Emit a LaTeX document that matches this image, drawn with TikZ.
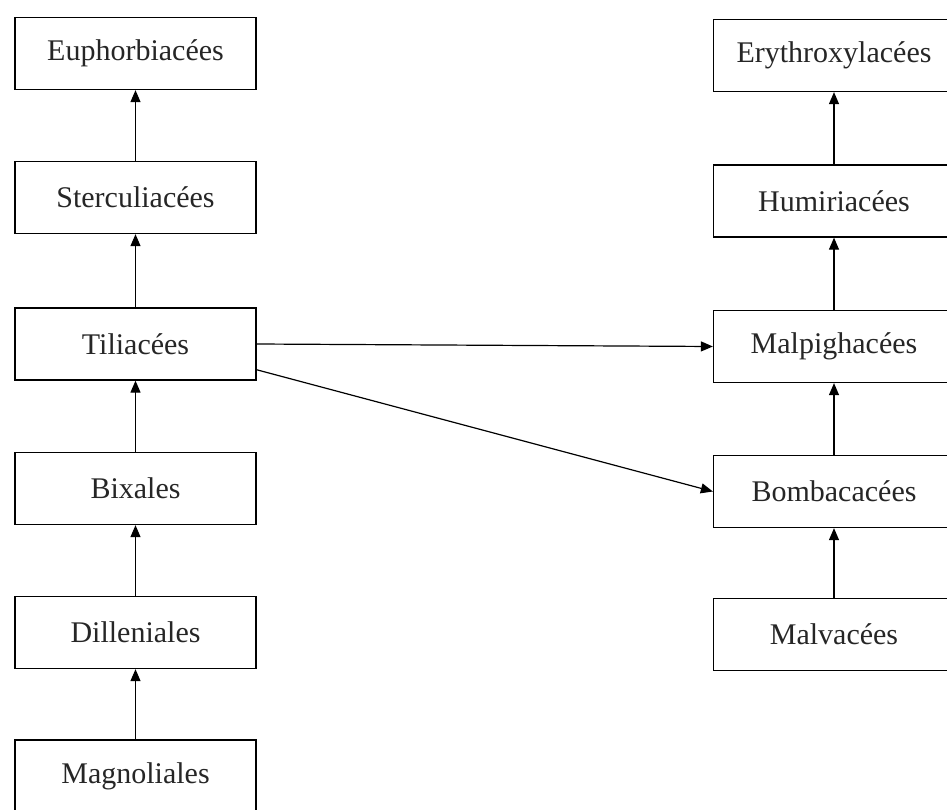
\documentclass[tikz,border=0pt]{standalone}
\usepackage{fontspec}
\setmainfont{Liberation Serif}
\usetikzlibrary{arrows.meta}
\begin{document}
\begin{tikzpicture}[x=1pt,y=-1pt,
  box/.style={draw=black,line width=1.3pt,minimum width=241pt,minimum height=72pt,inner sep=0pt,font=\fontsize{30}{34}\selectfont,text=black!85},
  conn/.style={draw=black,line width=1.2pt,-{Triangle[length=12pt,width=10pt]}}]
\clip (0,0) rectangle (947,810);
\useasboundingbox (0,0) rectangle (947,810);
\node[box] (euph) at (135.5,53.5) {Euphorbiacées};
\node[box] (ster) at (135.5,197.5) {Sterculiacées};
\node[box] (tili) at (135.5,344) {Tiliacées};
\node[box] (bixa) at (135.5,488.5) {Bixales};
\node[box] (dill) at (135.5,632.5) {Dilleniales};
\node[box] (magn) at (135.5,776) {Magnoliales};
\node[box] (eryt) at (834,55.5) {Erythroxylacées};
\node[box] (humi) at (834,201) {Humiriacées};
\node[box] (malp) at (834,346.5) {Malpighacées};
\node[box] (bomb) at (834,491.5) {Bombacacées};
\node[box] (malv) at (834,634.5) {Malvacées};
\draw[conn] (ster) -- (euph);
\draw[conn] (tili) -- (ster);
\draw[conn] (bixa) -- (tili);
\draw[conn] (dill) -- (bixa);
\draw[conn] (magn) -- (dill);
\draw[conn] (humi) -- (eryt);
\draw[conn] (malp) -- (humi);
\draw[conn] (bomb) -- (malp);
\draw[conn] (malv) -- (bomb);
\draw[conn] (tili.east) -- (malp.west);
\draw[conn] (tili.-12) -- (bomb.west);
\end{tikzpicture}
\end{document}
